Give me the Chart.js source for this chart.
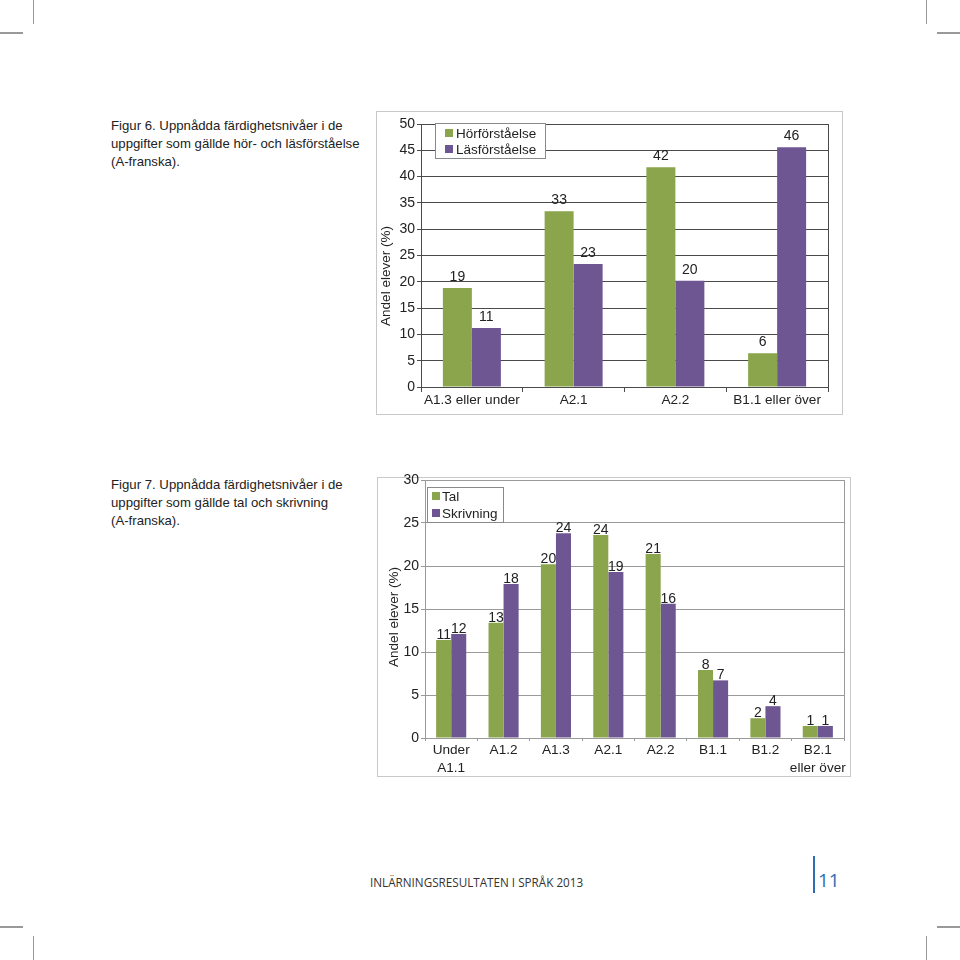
<!DOCTYPE html>
<html>
<head>
<meta charset="utf-8">
<script src="https://cdn.jsdelivr.net/npm/chart.js@4.4.1/dist/chart.umd.min.js"></script>
<style>
  html, body { margin: 0; padding: 0; background: #fff; }
  body { width: 960px; height: 960px; position: relative; overflow: hidden; font-family: "Liberation Sans", Arial, sans-serif; }
  .mark { position: absolute; background: #999; }
  .caption { position: absolute; left: 111px; font-size: 13.2px; line-height: 18px; color: #222; }
  .frame { position: absolute; border: 1px solid #c8c8c8; box-sizing: border-box; }
  .holder { position: absolute; }
  .footer { position: absolute; left: 370px; top: 874px; font-family: "Open Sans", sans-serif; font-size: 11.7px; color: #333; }
  .pageline { position: absolute; left: 813px; top: 856px; width: 2px; height: 37px; background: #2f6db3; }
  .pagenum { position: absolute; left: 818px; top: 867px; font-family: "Open Sans", sans-serif; font-size: 19px; color: #2f6db3; }
</style>
</head>
<body>
<!-- crop marks -->
<div class="mark" style="left:33px;top:0;width:1px;height:24px"></div>
<div class="mark" style="left:0;top:32px;width:23px;height:2px"></div>
<div class="mark" style="left:926px;top:0;width:1px;height:24px"></div>
<div class="mark" style="left:937px;top:32px;width:23px;height:2px"></div>
<div class="mark" style="left:0;top:926px;width:23px;height:2px"></div>
<div class="mark" style="left:33px;top:936px;width:1px;height:24px"></div>
<div class="mark" style="left:937px;top:926px;width:23px;height:2px"></div>
<div class="mark" style="left:926px;top:936px;width:1px;height:24px"></div>

<div class="caption" style="top:117px">Figur 6. Uppnådda färdighetsnivåer i de<br>uppgifter som gällde hör- och läsförståelse<br>(A-franska).</div>
<div class="caption" style="top:476px">Figur 7. Uppnådda färdighetsnivåer i de<br>uppgifter som gällde tal och skrivning<br>(A-franska).</div>

<div class="frame" style="left:376px;top:111px;width:467px;height:304px"></div>
<div class="holder" style="left:376px;top:111px;width:467px;height:304px"><canvas id="chart1"></canvas></div>

<div class="frame" style="left:377px;top:477px;width:474px;height:300px"></div>
<div class="holder" style="left:377px;top:462px;width:494px;height:315px"><canvas id="chart2"></canvas></div>

<div class="footer">INLÄRNINGSRESULTATEN I SPRÅK 2013</div>
<div class="pageline"></div>
<div class="pagenum">11</div>

<script>
// Figur 6
const levels1 = ["A1.3 eller under", "A2.1", "A2.2", "B1.1 eller över"];
const horforstaelse = [18.8, 33.4, 41.8, 6.4];
const lasforstaelse = [11.2, 23.4, 20.2, 45.6];

// Figur 7
const levels2 = [["Under", "A1.1"], "A1.2", "A1.3", "A2.1", "A2.2", "B1.1", "B1.2", ["B2.1", "eller över"]];
const tal = [11.4, 13.4, 20.2, 23.6, 21.4, 7.9, 2.3, 1.4];
const skrivning = [12.1, 17.9, 23.8, 19.3, 15.6, 6.7, 3.7, 1.4];

const yTitle = "Andel elever (%)";
const green = "#8aa54c";
const purple = "#6e5692";

Chart.defaults.font.family = '"Liberation Sans", Arial, sans-serif';
Chart.defaults.font.size = 14;
Chart.defaults.color = "#222";

// legend box, value labels, y title and right border, Excel style
const decor = {
    id: "decor",
    beforeDatasetsDraw(chart, args, o) {
        const ctx = chart.ctx;
        const a = chart.chartArea;
        ctx.save();
        // right edge of plot
        ctx.strokeStyle = o.edge;
        ctx.lineWidth = 1;
        ctx.beginPath();
        ctx.moveTo(Math.round(a.right) + 0.5, a.top);
        ctx.lineTo(Math.round(a.right) + 0.5, a.bottom);
        ctx.stroke();
        // legend
        const lx = Math.round(a.left + o.legendX), ly = Math.round(a.top + o.legendY);
        ctx.fillStyle = "#fff";
        ctx.fillRect(lx, ly, o.legendW, o.legendH);
        ctx.strokeStyle = "#8a8a8a";
        ctx.strokeRect(lx + 0.5, ly + 0.5, o.legendW, o.legendH);
        ctx.font = '13.5px "Liberation Sans", Arial, sans-serif';
        ctx.textBaseline = "middle";
        ctx.textAlign = "left";
        chart.data.datasets.forEach((ds, i) => {
            const cy = ly + o.rowTop + i * o.rowH;
            ctx.fillStyle = ds.backgroundColor;
            ctx.fillRect(lx + o.boxX, cy - 4, 8, 8);
            ctx.fillStyle = "#222";
            ctx.fillText(ds.label, lx + o.textX, cy + 1);
        });
        // y title
        ctx.translate(o.titleX, o.titleY);
        ctx.rotate(-Math.PI / 2);
        ctx.textAlign = "center";
        ctx.fillText(yTitle, 0, 0);
        ctx.restore();
    },
    afterDatasetsDraw(chart, args, o) {
        const ctx = chart.ctx;
        ctx.save();
        ctx.font = '14px "Liberation Sans", Arial, sans-serif';
        ctx.fillStyle = "#222";
        ctx.textAlign = "center";
        ctx.textBaseline = "alphabetic";
        chart.data.datasets.forEach((ds, i) => {
            chart.getDatasetMeta(i).data.forEach((bar, j) => {
                ctx.fillText(String(Math.round(ds.data[j])), bar.x, bar.y - o.gap);
            });
        });
        ctx.restore();
    }
};

function makeChart(id, labels, names, series, yMax, cat, layout, deco, xHeight, yWidth, gridColor, lineHeight) {
    return new Chart(document.getElementById(id), {
        type: "bar",
        data: {
            labels: labels,
            datasets: [
                { label: names[0], data: series[0], backgroundColor: green, categoryPercentage: cat, barPercentage: 1 },
                { label: names[1], data: series[1], backgroundColor: purple, categoryPercentage: cat, barPercentage: 1 },
            ],
        },
        options: {
            responsive: true,
            maintainAspectRatio: false,
            animation: false,
            layout: { padding: layout },
            plugins: {
                legend: { display: false },
                tooltip: { enabled: false },
                decor: deco,
            },
            scales: {
                x: {
                    grid: { display: true, drawOnChartArea: false, offset: true, color: gridColor, tickLength: deco.xTick },
                    border: { color: gridColor },
                    ticks: { padding: 0, maxRotation: 0, autoSkip: false, color: "#222", font: { size: 13.6, lineHeight: lineHeight } },
                    afterFit: s => { s.height = xHeight; },
                },
                y: {
                    min: 0,
                    max: yMax,
                    ticks: { stepSize: 5, padding: 2, color: "#222", font: { size: 14 } },
                    grid: { color: gridColor, tickLength: 4 },
                    border: { color: gridColor },
                    afterFit: s => { s.width = yWidth; },
                },
            },
        },
        plugins: [decor],
    });
}

makeChart("chart1", levels1, ["Hörförståelse", "Läsförståelse"], [horforstaelse, lasforstaelse], 50, 0.57,
    { top: 13, right: 15, left: 0, bottom: 0 },
    { edge: "#4a4a4a", legendX: 14, legendY: -1, legendW: 110, legendH: 35, rowTop: 10, rowH: 16, boxX: 10, textX: 21,
      titleX: 10, titleY: 165, gap: 7, xTick: 5 },
    28, 45, "#4a4a4a", 1.2);

makeChart("chart2", levels2, ["Tal", "Skrivning"], [tal, skrivning], 30, 0.575,
    { top: 18, right: 27, left: 0, bottom: 0 },
    { edge: "#9a9a9a", legendX: 2, legendY: 7, legendW: 76, legendH: 35, rowTop: 9, rowH: 17, boxX: 5, textX: 15,
      titleX: 17, titleY: 155, gap: 1, xTick: 3 },
    39, 48, "#9a9a9a", 1.35);
</script>
</body>
</html>
